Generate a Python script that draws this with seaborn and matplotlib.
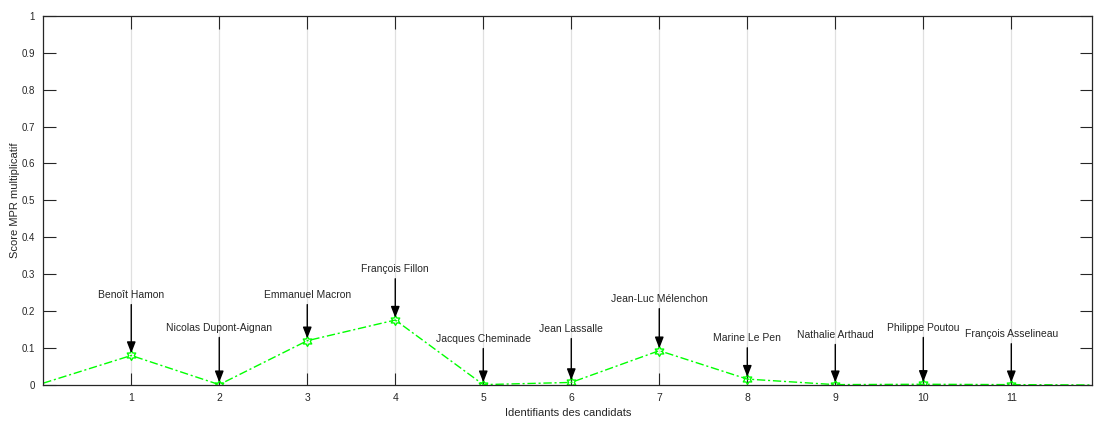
import matplotlib
matplotlib.use("Agg")
import matplotlib.pyplot as plt
import seaborn as sns
import pandas as pd
import numpy as np
from matplotlib.path import Path

sns.set_theme(style="white")
plt.rcParams['font.family'] = ['Liberation Sans', 'DejaVu Sans']

ids = [0, 1, 2, 3, 4, 5, 6, 7, 8, 9, 10, 11, 12]
scores = [0.005, 0.080, 0.001, 0.120, 0.176, 0.001, 0.007, 0.093, 0.016, 0.001, 0.002, 0.001, 0.0]
candidates = ["Benoît Hamon", "Nicolas Dupont-Aignan", "Emmanuel Macron", "François Fillon",
              "Jacques Cheminade", "Jean Lassalle", "Jean-Luc Mélenchon", "Marine Le Pen",
              "Nathalie Arthaud", "Philippe Poutou", "François Asselineau"]
label_heights = [0.244, 0.155, 0.244, 0.314, 0.125, 0.152, 0.233, 0.127, 0.136, 0.155, 0.138]
xticks = list(range(1, 12))
yticks = [0, 0.1, 0.2, 0.3, 0.4, 0.5, 0.6, 0.7, 0.8, 0.9, 1]

df = pd.DataFrame({"id": ids, "score": scores})

fig = plt.figure(figsize=(10.95, 4.21), dpi=100)
ax = fig.add_axes([0.0395, 0.0855, 0.958, 0.877])

# hexagram marker
ang = np.linspace(0, 2*np.pi, 13)[:-1] + np.pi/2
rad = np.array([1.0 if i % 2 == 0 else 0.58 for i in range(12)])
verts = list(zip(rad*np.cos(ang), rad*np.sin(ang)))
verts.append(verts[0])
hexagram = Path(verts, [Path.MOVETO] + [Path.LINETO]*11 + [Path.CLOSEPOLY])

sns.lineplot(data=df, x="id", y="score", ax=ax, color="#00ff00", linestyle=(0, (6, 2, 1.5, 2)),
             linewidth=1.0, marker=hexagram, markersize=7, markerfacecolor="none",
             markeredgecolor="#00ff00", markeredgewidth=1.0, markevery=list(range(1, 12)))

for i, name in enumerate(candidates):
    x = xticks[i]
    y = scores[x]
    ax.annotate(name, xy=(x, y + 0.006), xytext=(x, label_heights[i]),
                ha="center", va="center", fontsize=7.5, color="#262626",
                arrowprops=dict(arrowstyle="-|>,head_length=0.9,head_width=0.35", color="black",
                                lw=1.0, shrinkA=1, shrinkB=0))

ax.set_xlim(0, 11.92)
ax.set_ylim(0, 1)
ax.set_xticks(xticks)
ax.set_xticklabels([str(t) for t in xticks])
ax.set_yticks(yticks)
ax.set_yticklabels(["%g" % t for t in yticks])
ax.grid(axis="x", color="#e0e0e0", linewidth=0.9)
ax.grid(axis="y", visible=False)
ax.tick_params(direction="in", length=9, width=0.8, color="#262626", labelsize=7.5,
               labelcolor="#262626", top=True, right=True, bottom=True, left=True, pad=6)
ax.tick_params(axis="y", labelsize=7)
for s in ax.spines.values():
    s.set_color("#262626")
    s.set_linewidth(0.9)
ax.set_xlabel("Identifiants des candidats", fontsize=8, color="#262626", labelpad=3)
ax.set_ylabel("Score MPR multiplicatif", fontsize=8, color="#262626", labelpad=1)

fig.savefig("out.png", dpi=100)
